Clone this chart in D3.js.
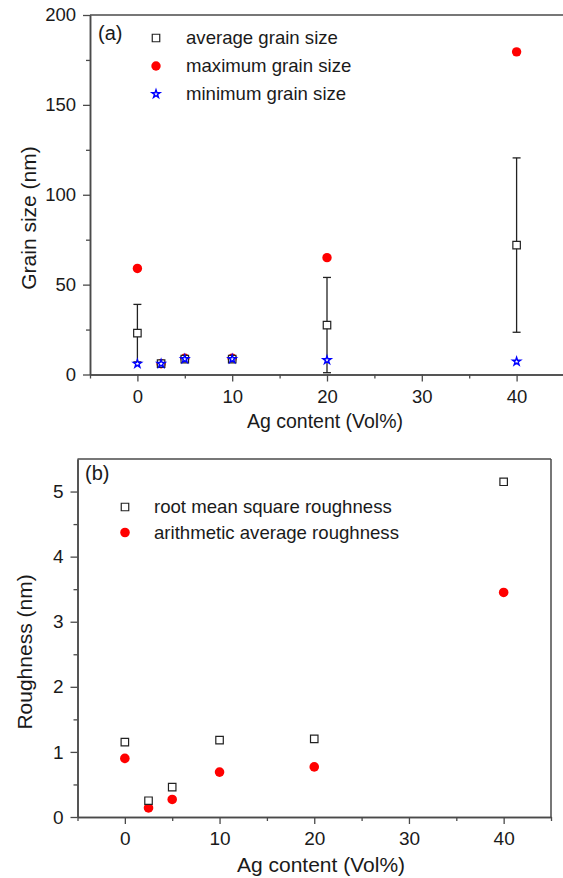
<!DOCTYPE html>
<html><head><meta charset="utf-8">
<script src="https://cdn.jsdelivr.net/npm/d3@7"></script>
<style>
body{margin:0;background:#fff;}
text{font-family:"Liberation Sans",Arial,sans-serif;fill:#1a1a1a;}
</style></head>
<body><svg id="c" width="563" height="878"></svg>
<script>
// ---- data ----
const agContent = [0, 2.5, 5, 10, 20, 40];
const avgGrain = [23, 6, 8.6, 8.6, 27.5, 72];
const avgGrainErr = [16, 0, 0, 0, 26.5, 48.5];
const maxGrain = [59, 6, 9, 9, 65, 179.5];
const minGrain = [6, 6, 8.6, 8.6, 8, 7.2];
const rmsRough = [1.15, 0.25, 0.46, 1.18, 1.2, 5.15];
const raRough = [0.9, 0.14, 0.27, 0.69, 0.77, 3.45];
const xTicks = [0, 10, 20, 30, 40];
const xMinor = [-5, 5, 15, 25, 35, 45];
const yTicksA = [0, 50, 100, 150, 200];
const yMinorA = [25, 75, 125, 175];
const yTicksB = [0, 1, 2, 3, 4, 5];
const yMinorB = [0.5, 1.5, 2.5, 3.5, 4.5];
const legendA = ["average grain size", "maximum grain size", "minimum grain size"];
const legendB = ["root mean square roughness", "arithmetic average roughness"];

const svg = d3.select("#c");
const axisColor = "#4a4a4a";

function panel(cfg){
  const g = svg.append("g");
  const x = d3.scaleLinear().domain([-5,45]).range([cfg.l, cfg.r]);
  const y = d3.scaleLinear().domain(cfg.yDom).range([cfg.b, cfg.t]);
  g.append("line").attr("x1",cfg.l).attr("x2",cfg.r).attr("y1",cfg.t).attr("y2",cfg.t).attr("stroke",axisColor).attr("stroke-width",1.5);
  g.append("line").attr("x1",cfg.r).attr("x2",cfg.r).attr("y1",cfg.t).attr("y2",cfg.b).attr("stroke",axisColor).attr("stroke-width",1.5);
  g.append("g").attr("transform",`translate(0,${cfg.b})`)
    .call(d3.axisBottom(x).tickValues(xTicks).tickSizeInner(7).tickSizeOuter(0).tickPadding(cfg.xpad).tickFormat(d3.format("d")));
  g.append("g").attr("transform",`translate(0,${cfg.b})`)
    .call(d3.axisBottom(x).tickValues(xMinor).tickSizeInner(4).tickSizeOuter(0).tickFormat(""));
  g.append("g").attr("transform",`translate(${cfg.l},0)`)
    .call(d3.axisLeft(y).tickValues(cfg.yTicks).tickSizeInner(7).tickSizeOuter(0).tickPadding(7).tickFormat(d3.format("d")));
  g.append("g").attr("transform",`translate(${cfg.l},0)`)
    .call(d3.axisLeft(y).tickValues(cfg.yMinor).tickSizeInner(4).tickSizeOuter(0).tickFormat(""));
  g.selectAll(".domain").attr("stroke",axisColor).attr("stroke-width",1.5);
  g.selectAll(".tick line").attr("stroke",axisColor).attr("stroke-width",1.3);
  g.selectAll(".tick text").style("font-size",cfg.tkfs+"px").attr("fill","#1a1a1a");
  g.append("text").attr("x",cfg.xtX).attr("y",cfg.xtY).attr("text-anchor","middle")
    .style("font-size",cfg.tfs+"px").text("Ag content (Vol%)");
  g.append("text").attr("transform",`translate(${cfg.ytX},${cfg.ytY}) rotate(-90)`).attr("text-anchor","middle")
    .style("font-size",cfg.ytfs+"px").text(cfg.ytitle);
  g.append("text").attr("x",cfg.lbX).attr("y",cfg.lbY).style("font-size","20px").text(cfg.label);
  return {g,x,y};
}

const sq = d3.symbol().type(d3.symbolSquare).size(56);
const star = d3.symbol().type(d3.symbolStar).size(20);

// ---- panel a ----
const A = panel({l:90,r:564,t:15,b:374.5,yDom:[0,200],yTicks:yTicksA,yMinor:yMinorA,xpad:8,tkfs:18.5,
  ytitle:"Grain size (nm)",xtX:325,xtY:428,ytX:36,ytY:218,tfs:19.5,ytfs:21,label:"(a)",lbX:98,lbY:40});
const dA = agContent.map((v,i)=>({x:v,avg:avgGrain[i],err:avgGrainErr[i],mx:maxGrain[i],mn:minGrain[i]}));
dA.filter(d=>d.err>0).forEach(d=>{
  const cx=A.x(d.x), y1=A.y(d.avg+d.err), y0=A.y(d.avg-d.err);
  A.g.append("line").attr("x1",cx).attr("x2",cx).attr("y1",y1).attr("y2",y0).attr("stroke","#222").attr("stroke-width",1.3);
  [y1,y0].forEach(yy=>A.g.append("line").attr("x1",cx-4).attr("x2",cx+4).attr("y1",yy).attr("y2",yy).attr("stroke","#222").attr("stroke-width",1.3));
});
A.g.selectAll(".mx").data(dA).join("circle").attr("cx",d=>A.x(d.x)).attr("cy",d=>A.y(d.mx)).attr("r",4.7).attr("fill","#ff0000");
A.g.selectAll(".av").data(dA).join("path").attr("d",sq).attr("transform",d=>`translate(${A.x(d.x)},${A.y(d.avg)})`)
  .attr("fill","#fff").attr("stroke","#222").attr("stroke-width",1.2);
A.g.selectAll(".mn").data(dA).join("path").attr("d",star).attr("transform",d=>`translate(${A.x(d.x)},${A.y(d.mn)})`)
  .attr("fill","#fff").attr("stroke","#0000ff").attr("stroke-width",1.4);
const legAy = [38,66,94];
A.g.append("path").attr("d",sq).attr("transform",`translate(156,${legAy[0]})`).attr("fill","#fff").attr("stroke","#222").attr("stroke-width",1.2);
A.g.append("circle").attr("cx",156).attr("cy",legAy[1]).attr("r",4.7).attr("fill","#ff0000");
A.g.append("path").attr("d",star).attr("transform",`translate(156,${legAy[2]})`).attr("fill","#fff").attr("stroke","#0000ff").attr("stroke-width",1.4);
legendA.forEach((t,i)=>A.g.append("text").attr("x",186).attr("y",legAy[i]+6).style("font-size","18.6px").text(t));

// ---- panel b ----
const B = panel({l:77.5,r:551,t:459,b:817,yDom:[0,5.5],yTicks:yTicksB,yMinor:yMinorB,xpad:8,tkfs:19,
  ytitle:"Roughness (nm)",xtX:321,xtY:872,ytX:32,ytY:652,tfs:21,ytfs:21,label:"(b)",lbX:85,lbY:480});
const dB = agContent.map((v,i)=>({x:v,rms:rmsRough[i],ra:raRough[i]}));
B.g.selectAll(".ra").data(dB).join("circle").attr("cx",d=>B.x(d.x)).attr("cy",d=>B.y(d.ra)).attr("r",4.8).attr("fill","#ff0000");
B.g.selectAll(".rms").data(dB).join("path").attr("d",sq).attr("transform",d=>`translate(${B.x(d.x)},${B.y(d.rms)})`)
  .attr("fill","#fff").attr("stroke","#222").attr("stroke-width",1.2);
B.g.append("path").attr("d",sq).attr("transform",`translate(125,507)`).attr("fill","#fff").attr("stroke","#222").attr("stroke-width",1.2);
B.g.append("circle").attr("cx",125).attr("cy",532.5).attr("r",4.8).attr("fill","#ff0000");
legendB.forEach((t,i)=>B.g.append("text").attr("x",154).attr("y",[507,532.5][i]+6).style("font-size","18.6px").text(t));
</script></body></html>
